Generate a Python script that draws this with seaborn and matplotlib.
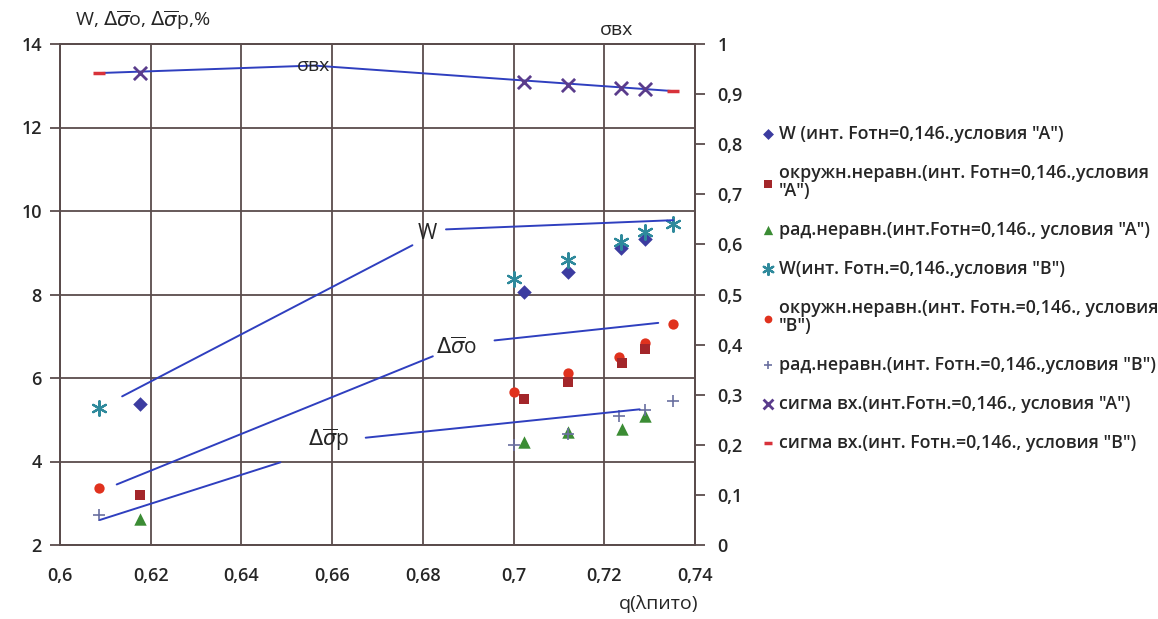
import matplotlib
matplotlib.use("Agg")
import matplotlib.pyplot as plt
import matplotlib.ticker as mticker
import seaborn as sns
import numpy as np

# ---------------- data ----------------
# W, conditions "A"
wA_x = [0.6177, 0.7022, 0.7120, 0.7236, 0.7289]
wA_y = [5.37, 8.06, 8.54, 9.12, 9.34]
# circumferential non-uniformity, "A"
okA_x = [0.6177, 0.7022, 0.7120, 0.7238, 0.7289]
okA_y = [3.20, 5.50, 5.90, 6.36, 6.70]
# radial non-uniformity, "A"
radA_x = [0.6177, 0.7022, 0.7120, 0.7238, 0.7290]
radA_y = [2.62, 4.46, 4.70, 4.78, 5.08]
# W, conditions "B"
wB_x = [0.6086, 0.7002, 0.7121, 0.7236, 0.7289, 0.7352]
wB_y = [5.29, 8.36, 8.82, 9.26, 9.50, 9.70]
# circumferential non-uniformity, "B"
okB_x = [0.6086, 0.7002, 0.7120, 0.7232, 0.7289, 0.7352]
okB_y = [3.36, 5.66, 6.12, 6.50, 6.84, 7.30]
# radial non-uniformity, "B"
radB_x = [0.6086, 0.7002, 0.7120, 0.7232, 0.7290, 0.7352]
radB_y = [2.72, 4.40, 4.66, 5.10, 5.24, 5.46]
# sigma inlet (right axis)
sgA_x = [0.6177, 0.7022, 0.7120, 0.7236, 0.7289]
sgA_y = [0.942, 0.924, 0.918, 0.912, 0.910]
sgB_x = [0.6086, 0.7352]
sgB_y = [0.942, 0.906]

# hand-drawn trend lines (data coordinates)
lineW1_x, lineW1_y = [0.6137, 0.6777], [5.56, 9.18]
lineW2_x, lineW2_y = [0.6851, 0.7352], [9.56, 9.78]
lineO1_x, lineO1_y = [0.6125, 0.6822], [3.45, 6.52]
lineO2_x, lineO2_y = [0.6958, 0.7319], [6.90, 7.32]
lineP1_x, lineP1_y = [0.6088, 0.6486], [2.60, 3.98]
lineP2_x, lineP2_y = [0.6674, 0.7278], [4.57, 5.25]
lineS_x, lineS_y = [0.6086, 0.6560, 0.7352], [0.942, 0.957, 0.906]

x_ticks = [0.60, 0.62, 0.64, 0.66, 0.68, 0.70, 0.72, 0.74]
y_ticks = [2, 4, 6, 8, 10, 12, 14]
y2_ticks = [0, 0.1, 0.2, 0.3, 0.4, 0.5, 0.6, 0.7, 0.8, 0.9, 1.0]

labels = [
    'W (инт. Fотн=0,146.,условия "А")',
    'окружн.неравн.(инт. Fотн=0,146.,условия\n"А")',
    'рад.неравн.(инт.Fотн=0,146., условия "А")',
    'W(инт. Fотн.=0,146.,условия "В")',
    'окружн.неравн.(инт. Fотн.=0,146., условия\n"В")',
    'рад.неравн.(инт. Fотн.=0,146.,условия "В")',
    'сигма вх.(инт.Fотн.=0,146., условия "А")',
    'сигма вх.(инт. Fотн.=0,146., условия "В")',
]

# ---------------- style ----------------
sns.set_style("white")
plt.rcParams['font.family'] = ['Open Sans', 'DejaVu Sans']
plt.rcParams['mathtext.fontset'] = 'dejavusans'

grid_c = '#5a4c4c'
line_c = '#2f3fbf'

fig = plt.figure(figsize=(11.58, 6.19), dpi=100)
ax = fig.add_axes([60/1158, 1-545/619, (695-60)/1158, (545-44)/619])
ax2 = ax.twinx()

def fmt(v, pos):
    return ('%g' % v).replace('.', ',')

# left-axis series
sns.scatterplot(x=wA_x, y=wA_y, marker='D', color='#3c3ca0', s=55, linewidth=0, ax=ax, label=labels[0], zorder=5)
sns.scatterplot(x=okA_x, y=okA_y, marker='s', color='#a3262a', s=60, linewidth=0, ax=ax, label=labels[1], zorder=5)
sns.scatterplot(x=radA_x, y=radA_y, marker='^', color='#3b8c34', s=80, linewidth=0, ax=ax, label=labels[2], zorder=5)
sns.scatterplot(x=wB_x, y=wB_y, marker=(6, 2, 0), color='#2f8a9c', edgecolor='#2f8a9c', s=110, linewidth=1.6, ax=ax, label=labels[3], zorder=6)
sns.scatterplot(x=okB_x, y=okB_y, marker='o', color='#e0321e', s=55, linewidth=0, ax=ax, label=labels[4], zorder=4)
sns.scatterplot(x=radB_x, y=radB_y, marker='+', color='#6a6fa0', s=70, linewidth=1.2, ax=ax, label=labels[5], zorder=6)

# right-axis series
sns.scatterplot(x=sgB_x, y=sgB_y, marker='_', color='#d8323a', s=70, linewidth=2.5, ax=ax2, label=labels[7], zorder=4)
sns.scatterplot(x=sgA_x, y=sgA_y, marker='x', color='#5a3c8c', s=90, linewidth=2.0, ax=ax2, label=labels[6], zorder=5)

# trend lines
for xs, ys in [(lineW1_x, lineW1_y), (lineW2_x, lineW2_y), (lineO1_x, lineO1_y),
               (lineO2_x, lineO2_y), (lineP1_x, lineP1_y), (lineP2_x, lineP2_y)]:
    ax.plot(xs, ys, color=line_c, lw=1.4, zorder=7)
ax2.plot(lineS_x, lineS_y, color=line_c, lw=1.4, zorder=3)

# axes
ax.set_xlim(0.6, 0.74)
ax.set_ylim(2, 14)
ax2.set_ylim(0, 1)
ax.set_xticks(x_ticks)
ax.set_yticks(y_ticks)
ax2.set_yticks(y2_ticks)
ax.xaxis.set_major_formatter(mticker.FuncFormatter(fmt))
ax.yaxis.set_major_formatter(mticker.FuncFormatter(fmt))
ax2.yaxis.set_major_formatter(mticker.FuncFormatter(fmt))
ax.grid(True, color=grid_c, lw=1.3)
ax.set_axisbelow(True)
for a in (ax, ax2):
    for sp in a.spines.values():
        sp.set_color(grid_c)
        sp.set_linewidth(1.3)
ax.tick_params(axis='both', which='major', direction='out', length=7, width=1.3,
               color=grid_c, labelsize=13, pad=6)
ax.tick_params(axis='y', pad=6)
ax.tick_params(axis='x', pad=9)
ax2.tick_params(axis='y', direction='out', length=7, width=1.3, color=grid_c,
                labelsize=13, pad=9)
for lab in ax.get_xticklabels() + ax.get_yticklabels() + ax2.get_yticklabels():
    lab.set_fontweight('semibold')
ax.set_xlabel('')
ax.set_ylabel('')
ax2.set_ylabel('')

# in-plot labels
ax2.text(0.6559, 0.957, 'σвх', fontsize=14, ha='center', va='center', zorder=8)
ax.text(0.6810, 9.45, 'W', fontsize=15, ha='center', va='center', zorder=8)
ax.text(0.6873, 6.72, r'$\Delta\overline{\sigma}$o', fontsize=15, ha='center', va='center', zorder=8)
ax.text(0.6593, 4.52, r'$\Delta\overline{\sigma}$p', fontsize=15, ha='center', va='center', zorder=8)

# axis titles
fig.text(75/1158, 1-20/619, r'W, $\Delta\overline{\sigma}$o, $\Delta\overline{\sigma}$p,%', fontsize=14,
         ha='left', va='center')
fig.text(617/1158, 1-30/619, 'σвх', fontsize=14, ha='center', va='center')
fig.text(698/1158, 1-604/619, 'q(λпито)', fontsize=14, ha='right', va='center')

# legend
h1, l1 = ax.get_legend_handles_labels()
h2, l2 = ax2.get_legend_handles_labels()
if ax.get_legend():
    ax.get_legend().remove()
if ax2.get_legend():
    ax2.get_legend().remove()
hmap = dict(zip(l1 + l2, h1 + h2))
handles = [hmap[l] for l in labels]
leg = fig.legend(handles, labels, loc='upper left', bbox_to_anchor=(764/1158, 1-125/619),
                 frameon=False, labelspacing=1.18, handlelength=0.5,
                 handletextpad=0.35, markerscale=0.75, borderaxespad=0, borderpad=0,
                 prop={'weight': 'semibold', 'size': 12.8})
for t in leg.get_texts():
    t.set_linespacing(1.0)

fig.savefig('out.png', dpi=100, facecolor='white')
